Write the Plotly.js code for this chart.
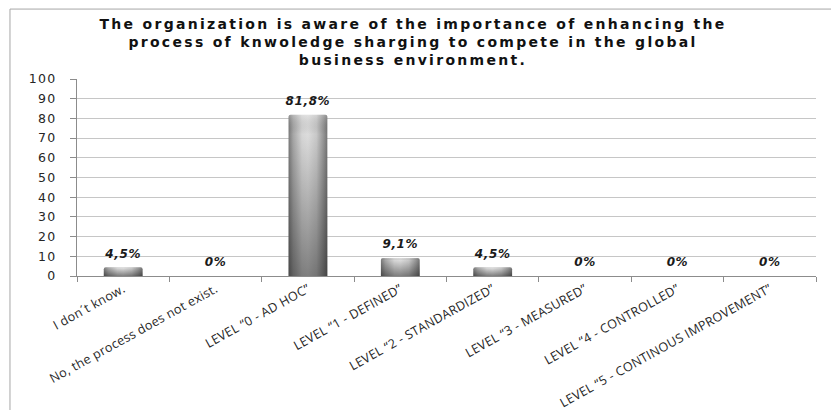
<!DOCTYPE html>
<html>
<head>
<meta charset="utf-8">
<script src="https://cdn.plot.ly/plotly-3.0.1.min.js"></script>
<style>
  html, body { margin: 0; padding: 0; background: #ffffff; }
  #chart { width: 831px; height: 410px; }
  /* wide, open lettering */
  #chart .gtitle { letter-spacing: 2.3px; }
  #chart .xtick text { letter-spacing: 0.3px; }
  #chart .ytick text { letter-spacing: 1.3px; }
  #chart .textpoint text { letter-spacing: 0.6px; }
</style>
</head>
<body>
<div id="chart"></div>
<script>
// Survey answers and their share of respondents (%)
const categories = [
  "I don´t know.",
  "No, the process does not exist.",
  "LEVEL “0 - AD HOC”",
  "LEVEL “1 - DEFINED”",
  "LEVEL “2 - STANDARDIZED”",
  "LEVEL “3 - MEASURED”",
  "LEVEL “4 - CONTROLLED”",
  "LEVEL “5 - CONTINOUS IMPROVEMENT”"
];
const shares = [4.5, 0, 81.8, 9.1, 4.5, 0, 0, 0];
const yTicks = [0, 10, 20, 30, 40, 50, 60, 70, 80, 90, 100];

const chartTitle = "The organization is aware of the importance of enhancing the<br>" +
                   "process of knwoledge sharging to compete in the global<br>" +
                   "business environment.";

// value labels use a decimal comma
const shareLabels = shares.map(v => String(v).replace(".", ",") + "%");

const BAR_W = 0.42;

// body of each cylinder (horizontal shading applied after render)
const barBody = {
  type: "bar", x: categories, y: shares, width: BAR_W,
  marker: { color: "#a9a9a9", line: { width: 0 }, cornerradius: 2 },
  hoverinfo: "skip", showlegend: false
};
// darkening toward the base of each cylinder
const barShade = {
  type: "bar", x: categories, y: shares, width: BAR_W,
  marker: { color: "rgba(0,0,0,0)", line: { width: 0 }, cornerradius: 2 },
  hoverinfo: "skip", showlegend: false
};
// percentage labels above the bars
const valueLabels = {
  type: "scatter", mode: "markers+text",
  x: categories, y: shares, text: shareLabels,
  textposition: "top center",
  marker: { size: 9, color: "rgba(0,0,0,0)" },
  textfont: { family: "DejaVu Sans", size: 12, color: "#1a1a1a", weight: "bold", style: "italic" },
  cliponaxis: false, hoverinfo: "skip", showlegend: false
};

const layout = {
  width: 831, height: 410,
  margin: { l: 77, r: 15, t: 79, b: 134, pad: 0 },
  paper_bgcolor: "#ffffff", plot_bgcolor: "#ffffff",
  barmode: "overlay",
  title: {
    text: chartTitle,
    font: { family: "DejaVu Sans", size: 14, color: "#111111", weight: "bold" },
    x: 0.497, xanchor: "center", xref: "container",
    y: 0.93, yanchor: "top"
  },
  xaxis: {
    type: "category",
    showgrid: false,
    showline: true, linecolor: "#8c8c8c", linewidth: 1,
    ticks: "outside", tickson: "boundaries", ticklen: 5, tickcolor: "#8c8c8c",
    tickangle: -29,
    tickfont: { family: "Open Sans", size: 12.6, color: "#262626" },
    automargin: false, zeroline: false
  },
  yaxis: {
    range: [0, 100],
    tickvals: yTicks,
    showgrid: true, gridcolor: "#c6c6c6", gridwidth: 1,
    showline: true, linecolor: "#8c8c8c", linewidth: 1,
    ticks: "outside", ticklen: 6, tickcolor: "#8c8c8c",
    ticklabelstandoff: 11,
    tickfont: { family: "DejaVu Sans", size: 12.5, color: "#262626" },
    zeroline: false, automargin: false, fixedrange: true
  },
  shapes: [{
    type: "rect", xref: "paper", yref: "paper",
    x0: -0.0907, x1: 1.2, y0: -1.0, y1: 1.355,
    line: { color: "#a6a6a6", width: 1 }, fillcolor: "rgba(0,0,0,0)", layer: "below"
  }]
};

Plotly.newPlot("chart", [barBody, barShade, valueLabels], layout,
               { displayModeBar: false, staticPlot: true }).then(gd => {
  const svg = gd.querySelector("svg.main-svg");
  const defs = svg.querySelector("defs");
  const NS = "http://www.w3.org/2000/svg";
  function gradient(id, horizontal, stops) {
    const g = document.createElementNS(NS, "linearGradient");
    g.setAttribute("id", id);
    g.setAttribute("x1", "0"); g.setAttribute("y1", "0");
    g.setAttribute("x2", horizontal ? "1" : "0");
    g.setAttribute("y2", horizontal ? "0" : "1");
    stops.forEach(([off, col, op]) => {
      const s = document.createElementNS(NS, "stop");
      s.setAttribute("offset", off);
      s.setAttribute("stop-color", col);
      s.setAttribute("stop-opacity", op);
      g.appendChild(s);
    });
    defs.appendChild(g);
  }
  gradient("cylBody", true, [
    [0, "#7a7a7a", 1], [0.12, "#a6a6a6", 1], [0.35, "#d6d6d6", 1],
    [0.5, "#dcdcdc", 1], [0.72, "#c8c8c8", 1], [0.9, "#959595", 1], [1, "#757575", 1]
  ]);
  gradient("cylShade", false, [
    [0, "#ffffff", 0.2], [0.12, "#000000", 0.0], [1, "#000000", 0.42]
  ]);
  const traces = gd.querySelectorAll(".barlayer .trace");
  traces.forEach((t, i) => {
    t.querySelectorAll(".point path").forEach(p => {
      p.style.fill = i === 0 ? "url(#cylBody)" : "url(#cylShade)";
      p.style.fillOpacity = 1;
    });
  });
});
</script>
</body>
</html>
